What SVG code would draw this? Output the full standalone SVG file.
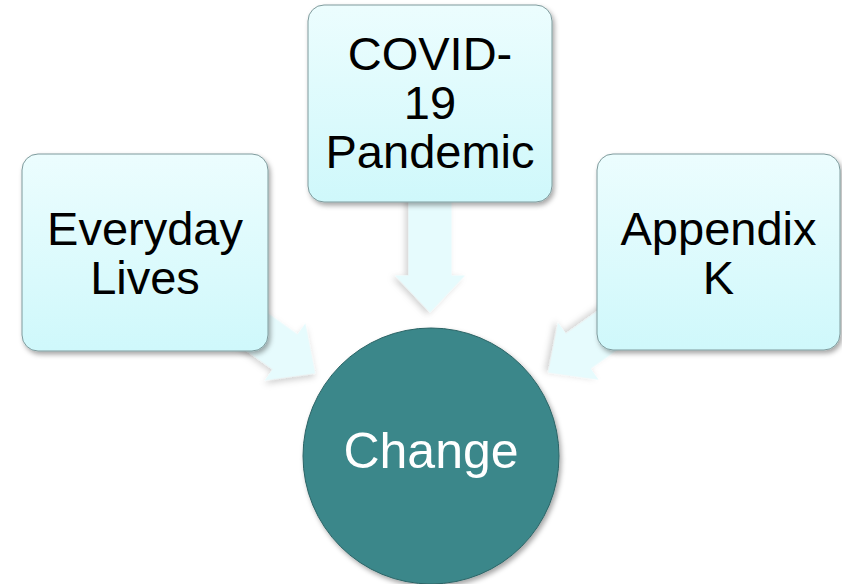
<svg xmlns="http://www.w3.org/2000/svg" width="842" height="584" viewBox="0 0 842 584">
<defs>
<linearGradient id="boxGrad" x1="0" y1="0" x2="0" y2="1">
<stop offset="0" stop-color="#ECFDFE"/>
<stop offset="1" stop-color="#CFF8FB"/>
</linearGradient>
<filter id="shadow" x="-20%" y="-20%" width="140%" height="140%">
<feDropShadow dx="2" dy="3" stdDeviation="2.5" flood-color="#000" flood-opacity="0.35"/>
</filter>
<filter id="ashadow" x="-20%" y="-20%" width="140%" height="140%">
<feDropShadow dx="2" dy="3" stdDeviation="3" flood-color="#000" flood-opacity="0.18"/>
</filter>
<polygon id="arrowShape" points="0,-21.5 172,-21.5 172,-35 209,0 172,35 172,21.5 0,21.5"/>
</defs>
<style>
.box{fill:url(#boxGrad);stroke:#7E9A9C;stroke-width:1;filter:url(#shadow)}
.arrow{fill:#E6FBFD;filter:url(#ashadow)}
.lbl{font-family:"Liberation Sans",Arial,sans-serif;font-size:47px;fill:#000;text-anchor:middle}
.clbl{font-family:"Liberation Sans",Arial,sans-serif;font-size:50px;fill:#fff;text-anchor:middle}
</style>
<rect width="842" height="584" fill="#fff"/>
<g id="connectors">
<use href="#arrowShape" class="arrow" transform="translate(145,252) rotate(35.5)"/>
<use href="#arrowShape" class="arrow" transform="translate(430,103.5) rotate(90)"/>
<use href="#arrowShape" class="arrow" transform="translate(718.5,251.5) rotate(144.6)"/>
</g>
<g id="everyday">
<rect class="box" x="22" y="154" width="246" height="197" rx="16"/>
<text class="lbl" x="145" y="245">Everyday</text>
<text class="lbl" x="145" y="294">Lives</text>
</g>
<g id="covid">
<rect class="box" x="308" y="5" width="244" height="197" rx="16"/>
<text class="lbl" x="430" y="70">COVID-</text>
<text class="lbl" x="430" y="119">19</text>
<text class="lbl" x="430" y="168">Pandemic</text>
</g>
<g id="appendix">
<rect class="box" x="597" y="154" width="243" height="196" rx="16"/>
<text class="lbl" x="718.5" y="245">Appendix</text>
<text class="lbl" x="718.5" y="294">K</text>
</g>
<g id="change">
<circle cx="431" cy="456" r="128" fill="#3B878A" stroke="#2C6466" stroke-width="1" filter="url(#shadow)"/>
<text class="clbl" x="431" y="468">Change</text>
</g>
</svg>
